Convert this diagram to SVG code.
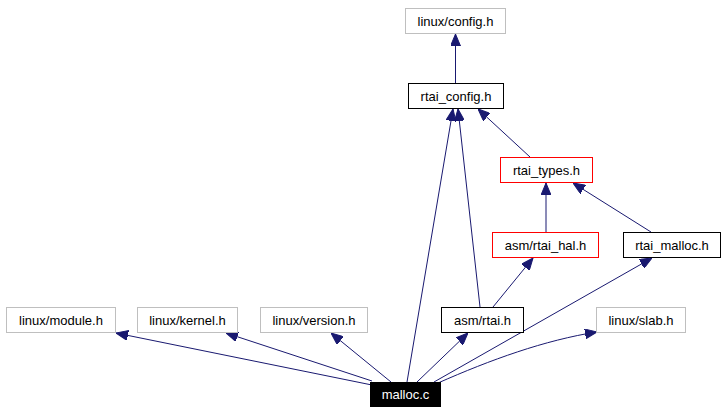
<svg xmlns="http://www.w3.org/2000/svg" width="728" height="413" viewBox="0 0 728 413">
<style>
rect{fill:#fff;stroke-width:1}
.g{stroke:#bfbfbf}
.k{stroke:#000}
.r{stroke:#f00}
text{font-family:"Liberation Sans",Arial,sans-serif;font-size:13px;text-anchor:middle;fill:#000}
#edges path{fill:none;stroke:#191970;stroke-width:1;marker-end:url(#ah)}
</style>
<defs>
<marker id="ah" viewBox="0 0 12 10" refX="12" refY="5" markerWidth="12" markerHeight="10" markerUnits="userSpaceOnUse" orient="auto">
<path d="M0,0 L12,5 L0,10 z" fill="#191970" stroke="#191970"/>
</marker>
</defs>
<rect x="0" y="0" width="728" height="413" style="fill:#fff;stroke:none"/>
<g id="edges">
<path d="M372,385 L116,333"/>
<path d="M372,381 L226,333"/>
<path d="M391,382 L331,333"/>
<path d="M407,382 L453,109"/>
<path d="M417,382 L468,333"/>
<path d="M434,382 L652,258"/>
<path d="M438,383 C490,360 545,340 597,332"/>
<path d="M480,307 L458,109"/>
<path d="M493,307 L533,258"/>
<path d="M546,232 L546,183"/>
<path d="M651,232 L573,183"/>
<path d="M530,157 L478,109"/>
<path d="M455.5,83 L455.5,34"/>
</g>
<g id="linux_config"><rect class="g" x="405.5" y="8.5" width="100" height="25"/><text x="455.5" y="25.5">linux/config.h</text></g>
<g id="rtai_config"><rect class="k" x="408.5" y="83.5" width="95" height="25"/><text x="456" y="100.5">rtai_config.h</text></g>
<g id="rtai_types"><rect class="r" x="500.5" y="157.5" width="92" height="25"/><text x="546.5" y="174.5">rtai_types.h</text></g>
<g id="asm_rtai_hal"><rect class="r" x="492.5" y="232.5" width="106" height="25"/><text x="545.5" y="249.5">asm/rtai_hal.h</text></g>
<g id="rtai_malloc"><rect class="k" x="623.5" y="232.5" width="97" height="25"/><text x="672" y="249.5">rtai_malloc.h</text></g>
<g id="linux_module"><rect class="g" x="6.5" y="307.5" width="109" height="25"/><text x="61" y="324.5">linux/module.h</text></g>
<g id="linux_kernel"><rect class="g" x="137.5" y="307.5" width="100" height="25"/><text x="187.5" y="324.5">linux/kernel.h</text></g>
<g id="linux_version"><rect class="g" x="260.5" y="307.5" width="107" height="25"/><text x="314" y="324.5">linux/version.h</text></g>
<g id="asm_rtai"><rect class="k" x="441.5" y="307.5" width="82" height="25"/><text x="482.5" y="324.5">asm/rtai.h</text></g>
<g id="linux_slab"><rect class="g" x="596.5" y="307.5" width="89" height="25"/><text x="641" y="324.5">linux/slab.h</text></g>
<g id="malloc_c"><rect x="370.5" y="382.5" width="70" height="24" style="fill:#000;stroke:#000"/><text x="405.5" y="399" style="fill:#fff">malloc.c</text></g>
</svg>
